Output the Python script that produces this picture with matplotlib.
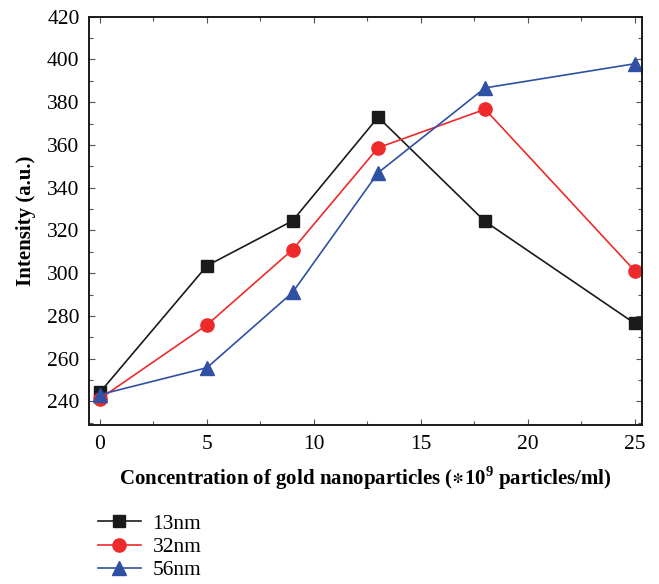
import matplotlib
matplotlib.use("Agg")
import matplotlib.pyplot as plt
from matplotlib.ticker import MultipleLocator

plt.rcParams['font.family'] = ['Liberation Serif', 'DejaVu Serif']
plt.rcParams['mathtext.fontset'] = 'custom'
plt.rcParams['mathtext.rm'] = 'Liberation Serif'
plt.rcParams['mathtext.bf'] = 'Liberation Serif:bold'
plt.rcParams['mathtext.fallback'] = 'stix'

concentration = [0, 5, 9, 13, 18, 25]
s13 = [244.3, 303.5, 324.5, 373.0, 324.2, 276.5]
s32 = [241.3, 275.8, 311.0, 358.7, 376.7, 301.1]
s56 = [243.2, 255.8, 291.0, 347.0, 386.7, 398.0]
labels = ["13nm", "32nm", "56nm"]

fig = plt.figure(figsize=(6.59, 5.84), dpi=100)
ax = fig.add_axes([0.1355, 0.2723, 0.8392, 0.6991])

l1, = ax.plot(concentration, s13, color='#1a1a1a', lw=1.2, marker='s', ms=8.5, label=labels[0])
l2, = ax.plot(concentration, s32, color='#ee2a2a', lw=1.2, marker='o', ms=9.5, label=labels[1])
l3, = ax.plot(concentration, s56, color='#3050a4', lw=1.2, marker='^', ms=10, label=labels[2])

ax.set_xlim(-0.5, 25.35)
ax.set_ylim(229, 420)
ax.xaxis.set_major_locator(MultipleLocator(5))
ax.xaxis.set_minor_locator(MultipleLocator(2.5))
ax.yaxis.set_major_locator(MultipleLocator(20))
ax.yaxis.set_minor_locator(MultipleLocator(10))
ax.tick_params(which='both', direction='in', top=True, right=True, width=0.8, color='#555555')
ax.tick_params(which='major', length=4, labelsize=15.5, pad=7)
ax.tick_params(which='minor', length=3)
for sp in ax.spines.values():
    sp.set_linewidth(1.4)
    sp.set_color('#1a1a1a')

ax.set_ylabel("Intensity (a.u.)", fontsize=15, fontweight='bold', labelpad=8)
ax.set_xlabel("Concentration of gold nanoparticles ($\\mathbf{\\ast}$10$^{\\mathbf{9}}$ particles/ml)",
              fontsize=15, fontweight='bold', labelpad=8)

fig.legend(handles=[l1, l2, l3], labels=labels, loc='upper left',
           bbox_to_anchor=(0.135, 0.135), frameon=False, fontsize=15.5,
           handlelength=2.0, handletextpad=0.55, labelspacing=0.15, borderaxespad=0)

fig.savefig("out.png", dpi=100)
